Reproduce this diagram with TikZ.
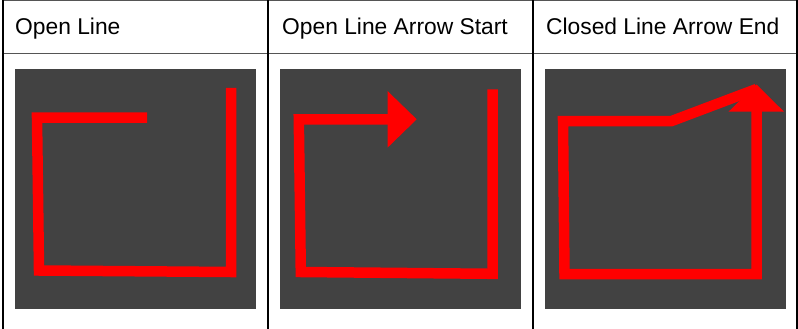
\documentclass[tikz,border=0pt]{standalone}
\usepackage{fontspec,tikz}
\setmainfont{Liberation Sans}
\definecolor{panelgray}{HTML}{424242}
\definecolor{rulegray}{HTML}{555555}

\begin{document}
\begin{tikzpicture}[x=1pt,y=-1pt,
  head/.style={anchor=base west,inner sep=0pt,font=\fontsize{22.8}{27.4}\selectfont},
  panel/.style={fill=panelgray},
  redline/.style={draw=red,line width=10.5pt},
  redtip/.style={fill=red}]
\path[use as bounding box] (0,0) rectangle (798.0,329.0);
\fill[white] (0,0) rectangle (798,329);
% table rules
\draw[line width=1pt,rulegray] (2,1) -- (797,1);
\draw[line width=1pt,rulegray] (2,53.5) -- (797,53.5);
\draw[line width=2pt] (2.5,0) -- (2.5,329);
\draw[line width=2pt] (268,0) -- (268,329);
\draw[line width=2pt] (533,0) -- (533,329);
\draw[line width=2pt] (796.5,0) -- (796.5,329);
% header texts
\node[head] (hdopen) at (15,35) {Open Line};
\node[head] (hdstart) at (282,35) {Open Line Arrow Start};
\node[head] (hdend) at (546,35) {Closed Line Arrow End};
% panels
\path[panel] (15.0,69.0) rectangle (256.0,309.0);
\path[panel] (280.0,69.0) rectangle (521.0,309.0);
\path[panel] (545.0,69.0) rectangle (786.0,309.0);
% open line
\draw[redline] (147,117.5) -- (37,117.5) -- (39,270.5) -- (231,272) -- (231,88);
% open line, arrow at start
\draw[redline] (389,119.3) -- (298.8,119.3) -- (300.8,272) -- (492.5,273.8) -- (492.5,89.3);
\path[redtip] (387.5,91) -- (416.7,119.3) -- (387.5,147.7) -- cycle;
% closed line, arrow at end
\draw[redline] (756.5,110) -- (756.5,274) -- (564.5,274) -- (563,121) -- (671.7,121) -- (756.5,89);
\path[redtip] (728.5,111.7) -- (756.5,84.5) -- (784,111.7) -- cycle;
\end{tikzpicture}
\end{document}
